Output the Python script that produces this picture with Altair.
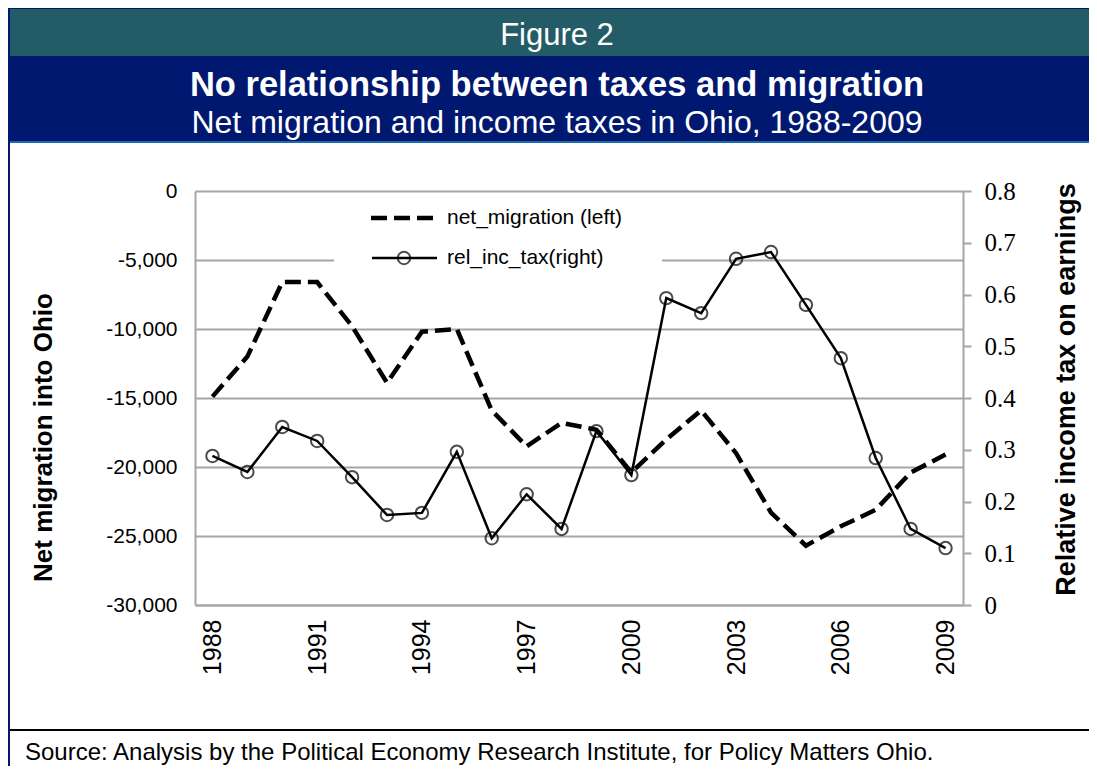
import altair as alt
import pandas as pd

# ---- data ----
years = list(range(1988, 2010))
net_migration = [-14900, -12000, -6600, -6600, -9800, -13900, -10200, -10000,
                 -15900, -18500, -16800, -17300, -20400, -18000, -15900, -19000,
                 -23300, -25700, -24300, -23100, -20400, -19100]
rel_inc_tax = [0.288, 0.257, 0.344, 0.317, 0.247, 0.174, 0.178, 0.296,
               0.129, 0.214, 0.147, 0.336, 0.251, 0.593, 0.564, 0.669,
               0.682, 0.580, 0.477, 0.284, 0.147, 0.110]
x_tick_years = [1988, 1991, 1994, 1997, 2000, 2003, 2006, 2009]
left_ticks = [-30000, -25000, -20000, -15000, -10000, -5000, 0]
right_ticks = [0, 0.1, 0.2, 0.3, 0.4, 0.5, 0.6, 0.7, 0.8]

fig_label = "Figure 2"
title_text = "No relationship between taxes and migration"
subtitle_text = "Net migration and income taxes in Ohio, 1988-2009"
source_text = "Source: Analysis by the Political Economy Research Institute, for Policy Matters Ohio."
legend_labels = ["net_migration (left)", "rel_inc_tax(right)"]
left_title = "Net migration into Ohio"
right_title = "Relative income tax on earnings"

df = pd.DataFrame({"year": years, "net_migration": net_migration, "rel_inc_tax": rel_inc_tax})
one = pd.DataFrame({"k": [0]})

# ---- layout (view coords: origin at plot area top-left) ----
W, H = 1081, 758
PW, PH = 768, 414
PL, PT = 187, 183
PR = W - PL - PW
PB = H - PT - PH

SANS = "Liberation Sans"
SERIF = "Liberation Serif, Times New Roman, serif"
GRID = "#A6A6A6"
TEAL = "#235B66"
NAVY = "#00186F"
LBLUE = "#1B6AB0"

XL, XR = -PL, W - PL


def rect(x, x2, y, y2, color):
    return alt.Chart(one).mark_rect(color=color).encode(
        x=alt.value(x), x2=alt.value(x2), y=alt.value(y), y2=alt.value(y2))


def text(t, x, y, size, weight="normal", color="black", align="center", baseline="alphabetic", font=SANS):
    return alt.Chart(one).mark_text(
        text=t, font=font, fontSize=size, fontWeight=weight, color=color,
        align=align, baseline=baseline).encode(x=alt.value(x), y=alt.value(y))


decor = [
    rect(XL + 1, XR, -182, -135, TEAL),
    rect(XL + 1, XR, -135, -50, NAVY),
    rect(XL + 1, XR, -50, -48, LBLUE),
    rect(XL, XR, -183, -182, NAVY),
    rect(XL, XL + 2, -183, H - PT, NAVY),
    rect(XL + 2, XR, 538, 540, "black"),
    text(fig_label, 362, -146, 31, color="white"),
    text(title_text, 362, -95, 34.5, weight="bold", color="white"),
    text(subtitle_text, 362, -58, 32, color="white"),
    text(source_text, -170, 569, 24, align="left"),
]

x_enc = alt.X("year:O", scale=alt.Scale(type="point", padding=0.5),
              axis=alt.Axis(values=x_tick_years, labelAngle=270, labelFont=SANS, labelFontSize=25,
                            labelColor="black", labelPadding=14, ticks=False, tickSize=0,
                            domain=True, domainColor=GRID, domainWidth=2, grid=False,
                            title=None, labelOverlap=False))

mig = alt.Chart(df).mark_line(color="black", strokeWidth=4.5, strokeDash=[16, 7]).encode(
    x=x_enc,
    y=alt.Y("net_migration:Q", scale=alt.Scale(domain=[-30000, 0], nice=False),
            axis=alt.Axis(orient="left", values=left_ticks,
                          labelExpr="datum.value == 0 ? '0' : '-' + format(-datum.value, ',')",
                          labelFont=SANS, labelFontSize=21, labelColor="black", labelPadding=18,
                          ticks=False, tickSize=0, grid=True, gridColor=GRID, gridWidth=2,
                          domain=True, domainColor=GRID, domainWidth=2, labelOverlap=False,
                          title=left_title, titleFont=SANS, titleFontSize=26, titleFontWeight="bold",
                          titleColor="black", titleAngle=270, titleX=-152, titleY=246,
                          titleAlign="center", titleBaseline="middle")),
)

tax_y = alt.Y("rel_inc_tax:Q", scale=alt.Scale(domain=[0, 0.8], nice=False),
              axis=alt.Axis(orient="right", values=right_ticks,
                            labelExpr="datum.value == 0 ? '0' : format(datum.value, '.1f')",
                            labelFont=SERIF, labelFontSize=25, labelColor="black", labelPadding=13,
                            ticks=True, tickSize=8, tickColor=GRID, tickWidth=2, grid=False,
                            domain=True, domainColor=GRID, domainWidth=2, labelOverlap=False,
                            title=right_title, titleFont=SANS, titleFontSize=27, titleFontWeight="bold",
                            titleColor="black", titleAngle=270, titleX=103, titleY=198,
                            titleAlign="center", titleBaseline="middle"))

tax_line = alt.Chart(df).mark_line(color="black", strokeWidth=2.5).encode(x=x_enc, y=tax_y)
tax_pts = alt.Chart(df).mark_point(shape="circle", size=155, filled=False, stroke="black",
                                   strokeWidth=2).encode(x=x_enc, y=tax_y)
tax = alt.layer(tax_line, tax_pts)

legend_bg = rect(139, 467, 7, 81, "white")
legend = [
    alt.Chart(one).mark_rule(color="black", strokeWidth=4.5, strokeDash=[16, 7]).encode(
        x=alt.value(176), x2=alt.value(242), y=alt.value(27)),
    text(legend_labels[0], 252, 27, 21, align="left", baseline="middle"),
    alt.Chart(one).mark_rule(color="black", strokeWidth=2.5).encode(
        x=alt.value(177), x2=alt.value(242), y=alt.value(67)),
    alt.Chart(one).mark_point(shape="circle", size=155, filled=False, stroke="black",
                              strokeWidth=2).encode(x=alt.value(209), y=alt.value(67)),
    text(legend_labels[1], 252, 67, 21, align="left", baseline="middle"),
]

chart = alt.layer(*decor, legend_bg, mig, tax, *legend).resolve_scale(y="independent").properties(
    width=PW, height=PH,
    padding={"left": PL, "top": PT, "right": PR, "bottom": PB},
    autosize=alt.AutoSizeParams(type="none"),
    background="white",
).configure_view(stroke=None)

chart.save("out.html", embed_options={"renderer": "svg", "actions": False})
